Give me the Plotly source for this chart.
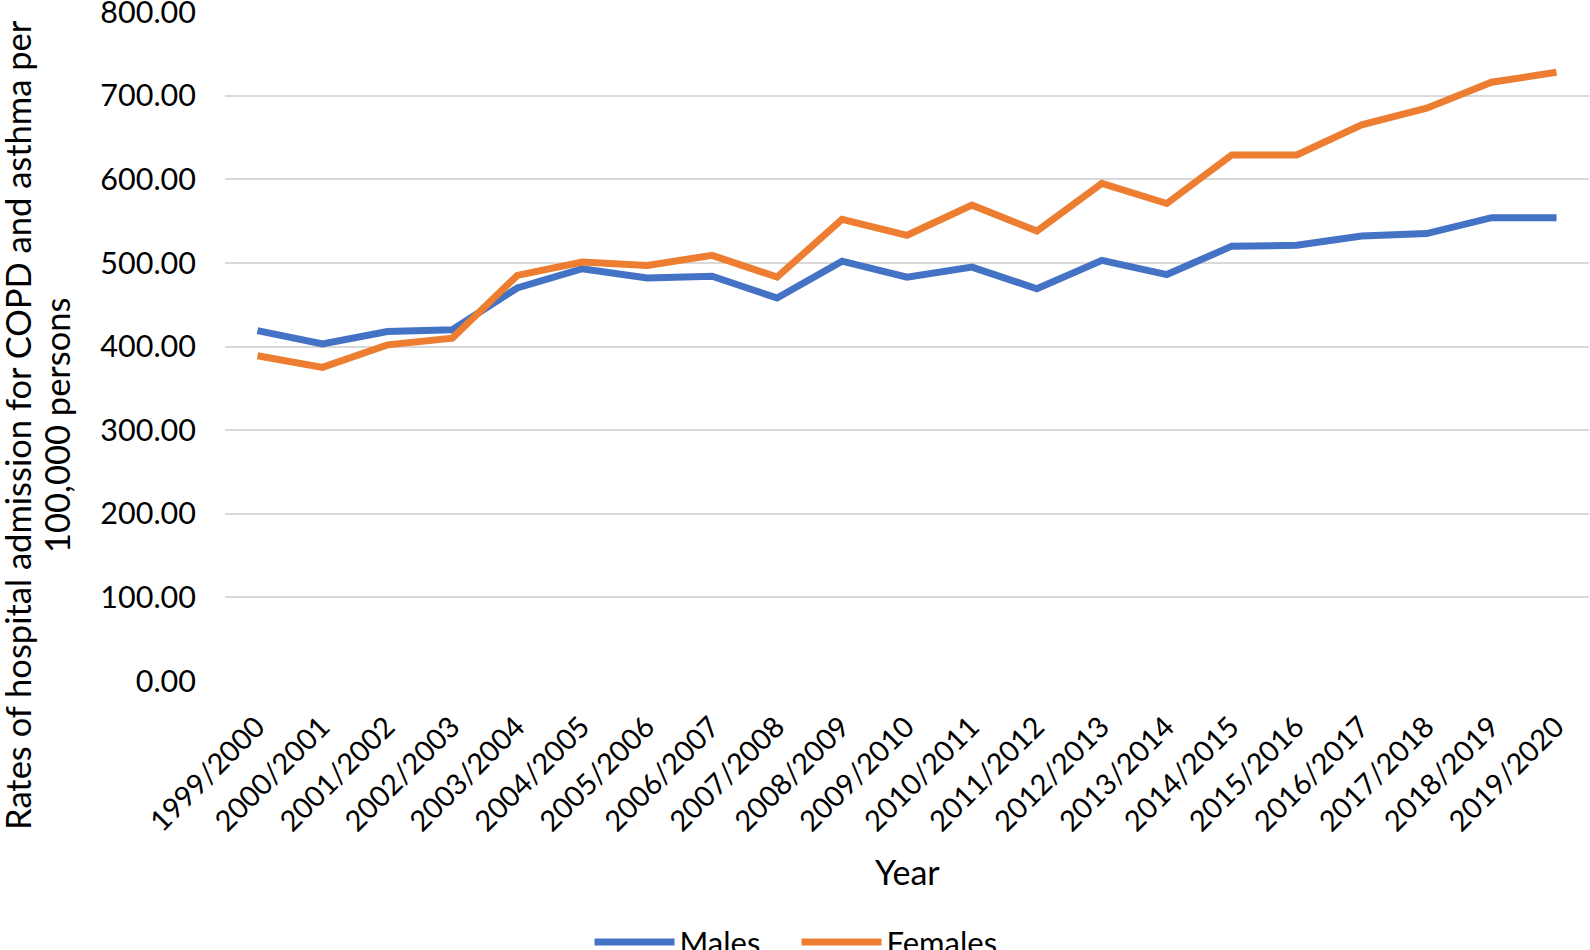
import plotly.graph_objects as go

years = ["1999/2000", "2000/2001", "2001/2002", "2002/2003", "2003/2004", "2004/2005",
         "2005/2006", "2006/2007", "2007/2008", "2008/2009", "2009/2010", "2010/2011",
         "2011/2012", "2012/2013", "2013/2014", "2014/2015", "2015/2016", "2016/2017",
         "2017/2018", "2018/2019", "2019/2020"]
males = [419, 403, 418, 420, 470, 493, 482, 484, 458, 502, 483, 495, 469, 503, 486,
         520, 521, 532, 535, 554, 554]
females = [389, 375, 402, 410, 485, 501, 497, 509, 483, 552, 533, 569, 538, 595, 571,
           629, 629, 665, 685, 716, 728]
y_title_lines = ["Rates of hospital admission for COPD and asthma per", "100,000 persons"]

FONT = "Lato"
fig = go.Figure()
fig.add_trace(go.Scatter(x=years, y=males, name="Males", mode="lines",
                         line=dict(color="#4472C4", width=7)))
fig.add_trace(go.Scatter(x=years, y=females, name="Females", mode="lines",
                         line=dict(color="#ED7D31", width=7)))

fig.update_layout(
    width=1590, height=950,
    margin=dict(l=225, r=1, t=12, b=269, autoexpand=False),
    paper_bgcolor="white", plot_bgcolor="white",
    font=dict(family=FONT, size=29, color="black"),
    showlegend=True,
    legend=dict(orientation="h", x=0.419, xanchor="center", y=-0.3905, yanchor="middle",
                font=dict(size=31), itemwidth=80, traceorder="normal",
                entrywidth=112, entrywidthmode="pixels"),
    xaxis=dict(type="category", range=[-0.5, 20.5], tickangle=-45, showgrid=False,
               showline=False, ticks="", tickfont=dict(size=29), automargin=False,
               ticklabelstandoff=22, ticklabelshift=-1),
    yaxis=dict(range=[0, 800], dtick=100, tickformat=".2f", showgrid=True,
               gridcolor="#D9D9D9", gridwidth=2, zeroline=False, showline=False,
               automargin=False, ticklabeloverflow="allow",
               ticks="", ticklabelstandoff=28, tickfont=dict(size=30.5)),
    annotations=[
        dict(text=y_title_lines[0], textangle=-90, xref="paper", yref="paper",
             x=-0.1518, y=0.3827, xanchor="center", yanchor="middle", showarrow=False,
             font=dict(size=34.5)),
        dict(text=y_title_lines[1], textangle=-90, xref="paper", yref="paper",
             x=-0.1232, y=0.3827, xanchor="center", yanchor="middle", showarrow=False,
             font=dict(size=34.5)),
        dict(text="Year", xref="paper", yref="paper", x=0.5, y=-0.2855,
             xanchor="center", yanchor="middle", showarrow=False,
             font=dict(size=34)),
    ],
)

fig.write_html("out.html", config={"displayModeBar": False},
               post_script="document.body.style.margin='0';document.body.style.overflow='hidden';")
